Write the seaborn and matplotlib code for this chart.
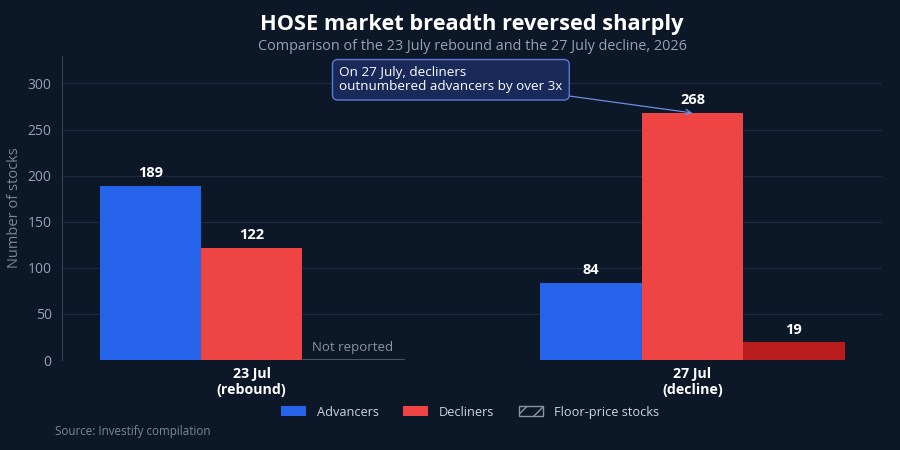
import pandas as pd
import numpy as np
import matplotlib.pyplot as plt
import seaborn as sns
from matplotlib.patches import Patch

# data
sessions = ['23 Jul\n(rebound)', '27 Jul\n(decline)']
advancers = [189, 84]
decliners = [122, 268]
floor_price = [None, 19]   # not reported for 23 Jul
series = ['Advancers', 'Decliners', 'Floor-price stocks']

bg = '#0c1727'
grid_c = '#1c2940'
muted = '#94a3b8'
colors = ['#2563eb', '#ef4444', '#b91c1c']

rows = []
for i, s in enumerate(sessions):
    rows.append([s, series[0], advancers[i]])
    rows.append([s, series[1], decliners[i]])
    rows.append([s, series[2], floor_price[i]])
df = pd.DataFrame(rows, columns=['session', 'type', 'count'])
df['reported'] = df['count'].notna()
df['plotval'] = df['count'].fillna(0).astype(float)

sns.set_style('dark')
plt.rcParams['font.family'] = ['Open Sans', 'DejaVu Sans']
plt.rcParams['hatch.color'] = '#8a94a3'

fig = plt.figure(figsize=(9, 4.5), dpi=100, facecolor=bg)
ax = fig.add_axes([0.069, 0.2, 0.911, 0.676])
ax.set_facecolor(bg)

sns.barplot(data=df, x='session', y='plotval', hue='type', hue_order=series,
            order=sessions, palette=colors, width=0.69, gap=0,
            saturation=1, errorbar=None, legend=False, ax=ax, linewidth=0)

# style bars & labels
for j, name in enumerate(series):
    cont = ax.containers[j]
    for i, bar in enumerate(cont):
        r = df[(df['session'] == sessions[i]) & (df['type'] == name)].iloc[0]
        if not r['reported']:
            x0 = bar.get_x()
            ax.plot([x0, x0 + bar.get_width()], [0, 0], color='#475569', lw=1.5, zorder=3)
            ax.text(x0 + bar.get_width() / 2, 6, 'Not reported', ha='center', va='bottom',
                    color='#8893a3', fontsize=9.5)
        else:
            ax.text(bar.get_x() + bar.get_width() / 2, r['count'] + 6, f"{int(r['count'])}",
                    ha='center', va='bottom', color='white', fontsize=10.5, fontweight='bold')

ax.set_ylim(0, 330)
ax.set_xlim(-0.43, 1.43)
ax.set_yticks(np.arange(0, 301, 50))
ax.yaxis.grid(True, color=grid_c, lw=0.9)
ax.xaxis.grid(False)
ax.set_axisbelow(True)
for sp in ['top', 'right', 'bottom']:
    ax.spines[sp].set_visible(False)
ax.spines['left'].set_visible(True)
ax.spines['left'].set_color('#334155')
ax.tick_params(axis='y', colors='#334155', labelcolor=muted, labelsize=10, length=4, width=0.8)
ax.tick_params(axis='x', length=0, labelsize=10.2, labelcolor='white', pad=5)
for t in ax.get_xticklabels():
    t.set_fontweight('bold')
ax.set_xlabel('')
ax.set_ylabel('Number of stocks', color='#7b8797', fontsize=10.5)

# annotation
ax.annotate('On 27 July, decliners\noutnumbered advancers by over 3x',
            xy=(1.0, 268), xytext=(0.452, 304), ha='center', va='center',
            multialignment='left', color='white', fontsize=9.7, linespacing=1.1,
            bbox=dict(boxstyle='round,pad=0.5,rounding_size=0.4', fc='#18295a', ec='#5b7bd6', lw=1),
            arrowprops=dict(arrowstyle='->', color='#6b8fe0', lw=0.9, shrinkA=0, shrinkB=0))

# legend
handles = [Patch(facecolor=colors[0], edgecolor='none'),
           Patch(facecolor=colors[1], edgecolor='none'),
           Patch(facecolor='none', edgecolor='#8a94a3', hatch='//', lw=1)]
cx = 0.069 + 0.911 / 2
fig.legend(handles, series, loc='center', bbox_to_anchor=(cx - 0.002, 0.084),
           ncol=3, frameon=False, fontsize=9.2, labelcolor='#cbd5e1',
           handlelength=1.95, handleheight=0.85, handletextpad=0.85, columnspacing=1.9)

fig.text(cx, 0.945, 'HOSE market breadth reversed sharply', ha='center', va='center',
         color='white', fontsize=15.7, fontweight='bold')
fig.text(cx, 0.896, 'Comparison of the 23 July rebound and the 27 July decline, 2026',
         ha='center', va='center', color=muted, fontsize=10.4)
fig.text(0.061, 0.04, 'Source: Investify compilation', ha='left', va='center',
         color='#7b8797', fontsize=8.4)

fig.savefig('out.png', dpi=100, facecolor=bg)
